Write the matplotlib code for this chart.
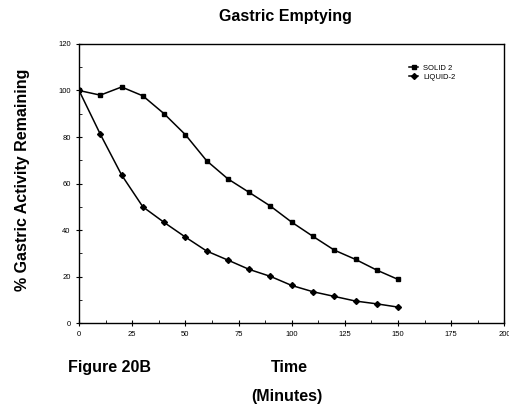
import numpy as np
import matplotlib
matplotlib.use("Agg")
from matplotlib import pyplot
from matplotlib.ticker import MultipleLocator

# minutes after meal
time_min = [0, 10, 20, 30, 40, 50, 60, 70, 80, 90, 100, 110, 120, 130, 140, 150]
solid_2 = [100, 98, 101.5, 97.7, 90, 81, 69.8, 62, 56.2, 50.3, 43.4, 37.3, 31.4, 27.4, 22.8, 18.8]
liquid_2 = [100, 81.2, 63.7, 50, 43.3, 37, 31, 27.1, 23.1, 20.1, 16.2, 13.5, 11.5, 9.5, 8.3, 6.9]

x_ticks = [0, 25, 50, 75, 100, 125, 150, 175, 200]
y_ticks = [0, 20, 40, 60, 80, 100, 120]

pyplot.rcParams["font.family"] = ["Liberation Sans", "DejaVu Sans"]

fig = pyplot.figure(figsize=(5.10, 4.07), dpi=100)
ax = fig.add_axes([0.155, 0.206, 0.834, 0.686])

ax.plot(time_min, solid_2, color="black", lw=1.1, marker="s", markersize=3.5,
        label="SOLID 2")
ax.plot(time_min, liquid_2, color="black", lw=1.1, marker="D", markersize=3,
        label="LIQUID-2")

ax.set_xlim(0, 200)
ax.set_ylim(0, 120)
ax.set_xticks(x_ticks)
ax.set_yticks(y_ticks)
ax.xaxis.set_minor_locator(MultipleLocator(12.5))
ax.yaxis.set_minor_locator(MultipleLocator(10))
ax.tick_params(axis="both", which="major", direction="inout", length=5, width=0.8,
               labelsize=5.5)
ax.tick_params(axis="both", which="minor", direction="in", length=2, width=0.6)
for spine in ax.spines.values():
    spine.set_linewidth(1.0)

leg = ax.legend(loc="upper left", bbox_to_anchor=(0.76, 0.95), frameon=False,
                fontsize=5.5, handlelength=1.2, handletextpad=0.6, labelspacing=0.2)

fig.text(0.559, 0.96, "Gastric Emptying", ha="center", va="center",
         fontsize=11.5, fontweight="bold")
fig.text(0.045, 0.558, "% Gastric Activity Remaining", ha="center", va="center",
         rotation=90, fontsize=11.5, fontweight="bold")
fig.text(0.133, 0.098, "Figure 20B", ha="left", va="center",
         fontsize=11.5, fontweight="bold")
fig.text(0.567, 0.098, "Time", ha="center", va="center",
         fontsize=11.5, fontweight="bold")
fig.text(0.563, 0.025, "(Minutes)", ha="center", va="center",
         fontsize=11.5, fontweight="bold")

fig.savefig("out.png", dpi=100)
